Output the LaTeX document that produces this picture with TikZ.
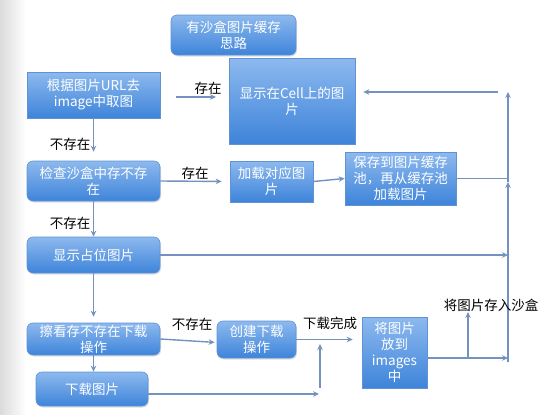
\documentclass[tikz,border=0pt]{standalone}
\usepackage{fontspec}
\newfontfamily\cjk{Noto Sans CJK SC}
\usetikzlibrary{arrows.meta, shadows}
\definecolor{boxtop}{HTML}{8DB9EE}
\definecolor{boxbot}{HTML}{3E84DA}
\definecolor{boxline}{HTML}{5F93D3}
\definecolor{arrowc}{HTML}{7392C0}

\begin{document}
\begin{tikzpicture}[x=1pt, y=-1pt,
    box/.style={draw=boxline, line width=0.6pt, top color=boxtop, bottom color=boxbot,
      text=white, align=center, inner sep=1pt, font=\cjk\fontsize{13.5}{16}\selectfont},
    rbox/.style={box, rounded corners=6pt,
      drop shadow={opacity=0.25, shadow xshift=1pt, shadow yshift=-1.5pt}},
    link/.style={draw=arrowc, line width=1.4pt},
    flow/.style={link, -{Stealth[length=6pt, width=5.5pt]}},
    lbl/.style={inner sep=0pt, font=\cjk\fontsize{13.5}{16}\selectfont}]
    \useasboundingbox (0,0) rectangle (547,415);
    % Page edge
    \shade[left color=black!14, right color=white] (0,0) rectangle (26,415);

    % Boxes
    \node[rbox, minimum width=125pt, minimum height=40pt] (title) at (233.5,35) {有沙盒图片缓存\\思路};
    \node[box, minimum width=133pt, minimum height=46pt] (A) at (93.5,95) {根据图片URL去\\image中取图};
    \node[box, minimum width=126pt, minimum height=86pt] (disp) at (292,101) {显示在Cell上的图\\片};
    \node[rbox, minimum width=133pt, minimum height=40pt] (B) at (93.5,181) {检查沙盒中存不存\\在};
    \node[box, minimum width=83pt, minimum height=41pt] (load) at (271.5,181.5) {加载对应图\\片};
    \node[box, minimum width=111pt, minimum height=53pt] (save) at (400.5,178.5) {保存到图片缓存\\池，再从缓存池\\加载图片};
    \node[rbox, minimum width=133pt, minimum height=36pt] (C) at (93.5,255) {显示占位图片};
    \node[rbox, minimum width=133pt, minimum height=32pt] (D) at (93.5,339) {擦看存不存在下载\\操作};
    \node[rbox, minimum width=112pt, minimum height=34pt] (E) at (92,389) {下载图片};
    \node[rbox, minimum width=79pt, minimum height=37pt] (create) at (256.5,339.5) {创建下载\\操作};
    \node[box, minimum width=65pt, minimum height=71pt] (img) at (394.5,352.5) {将图片\\放到\\images\\中};

    % Free ends
    \coordinate (hitS) at (176,97);
    \coordinate (hitE) at (216,97);
    \coordinate (busB) at (508,362);
    \coordinate (busM) at (508,182);
    \coordinate (busT) at (508,92);
    \coordinate (back) at (498,92);
    \coordinate (dlE) at (319,394);
    \coordinate (upB) at (320,388);
    \coordinate (upT) at (320,344);
    \coordinate (stB) at (468,358);
    \coordinate (stT) at (468,312);

    % Left column
    \draw[flow, shorten >=9pt] (A.south) -- (B.north);
    \draw[flow] (B.south) -- (C.north);
    \draw[flow, shorten >=6pt] (C.south) -- (D.north);
    \draw[flow] (D.south) -- (D.south |- E.north);

    % Branches
    \draw[flow] (hitS) -- (hitE);
    \draw[flow, shorten >=8pt] (B.east) -- (load.west);
    \draw[flow] (load.east) -- (save.west);
    \draw[flow, shorten >=2pt] (D.east) -- ([yshift=-3pt]create.west);
    \draw[flow, shorten >=9pt] (create.east) -- (create.east -| img.west);
    \draw[flow] ([yshift=-5pt]E.east) -- (dlE);
    \draw[flow] (upB) -- (upT);
    \draw[flow] (stB) -- (stT);

    % Back to the cell
    \draw[link] (save.east) -- (save.east -| busB);
    \draw[flow] (C.east) -- (C.east -| busB);
    \draw[flow] ([yshift=-5.5pt]img.east) -- ([yshift=-5.5pt]img.east -| busB);
    \draw[flow] (busB) -- (busM);
    \draw[flow] (busM) -- (busT);
    \draw[flow, shorten >=8pt] (back) -- (back -| disp.east);

    % Labels
    \node[lbl] (l1) at (208,88) {存在};
    \node[lbl] (l2) at (70,144) {不存在};
    \node[lbl] (l3) at (195,173) {存在};
    \node[lbl] (l4) at (70,223) {不存在};
    \node[lbl] (l5) at (192,324) {不存在};
    \node[lbl] (l6) at (330,323) {下载完成};
    \node[lbl] (l7) at (491,305) {将图片存入沙盒};
\end{tikzpicture}
\end{document}
